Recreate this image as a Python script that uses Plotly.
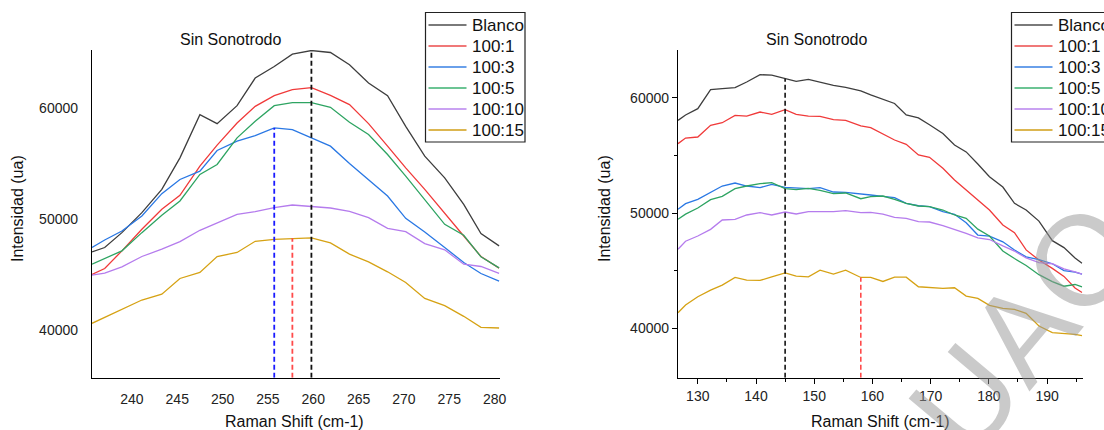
import plotly.graph_objects as go

# ---------------- data: left panel ----------------
x_left = [235.6, 237.0, 238.9, 241.1, 243.3, 245.3, 247.5, 249.4, 251.6, 253.6, 255.7, 257.7,
          259.8, 261.9, 264.0, 266.1, 268.2, 270.2, 272.3, 274.5, 276.6, 278.5, 280.5]
blanco_L = [47040, 47430, 48770, 50570, 52670, 55510, 59400, 58590, 60210, 62700, 63740, 64850,
            65180, 65000, 63890, 62250, 61110, 58350, 55660, 53710, 51320, 48680, 47580]
r1_L = [45000, 45540, 47130, 49070, 50870, 52130, 54760, 56650, 58650, 60150, 61110, 61650,
        61830, 61140, 60300, 58590, 56560, 54610, 52670, 50570, 48470, 46620, 45570]
r3_L = [47430, 48110, 48920, 50270, 52280, 53560, 54310, 56170, 57010, 57520, 58200, 58050,
        57310, 56560, 55000, 53560, 52070, 50060, 48830, 47430, 46080, 45090, 44400]
r5_L = [45930, 46440, 47130, 48770, 50330, 51620, 54010, 54910, 57310, 58800, 60210, 60480,
        60480, 60060, 58710, 57610, 55810, 53860, 51770, 49520, 48530, 46590, 45600]
r10_L = [44940, 45120, 45690, 46620, 47280, 47960, 48980, 49670, 50420, 50660, 51020, 51260,
         51110, 50990, 50690, 50120, 49160, 48860, 47780, 47220, 45930, 45720, 45090]
r15_L = [40600, 41140, 41890, 42700, 43230, 44640, 45180, 46620, 46980, 47990, 48170, 48260,
         48290, 47840, 46830, 46140, 45240, 44280, 42840, 42190, 41230, 40240, 40180]

# ---------------- data: right panel ----------------
x_right = [126.6, 127.9, 130.0, 132.2, 134.2, 136.4, 138.4, 140.7, 142.7, 145.0, 146.9, 149.0,
           151.0, 153.3, 155.4, 158.0, 159.7, 161.8, 163.8, 165.8, 167.9, 169.8, 172.1, 174.1,
           176.1, 178.1, 180.1, 182.4, 184.4, 186.4, 188.6, 190.9, 192.9, 194.8, 196.0]
blanco_R = [58035, 58500, 59046, 60694, 60780, 60867, 61358, 61994, 61965, 61647, 61416, 61590,
            61358, 61069, 60900, 60600, 60250, 59850, 59500, 58500, 58250, 57650, 56900, 55900,
            55300, 54250, 53150, 52250, 50840, 50260, 49300, 47600, 47000, 46100, 45640]
r1_R = [56012, 56503, 56590, 57601, 57832, 58468, 58410, 58757, 58555, 58960, 58555, 58410,
        58382, 58092, 58035, 57550, 57400, 56830, 56330, 55960, 55030, 54830, 53880, 52860,
        52000, 51130, 50260, 48960, 48290, 46800, 45920, 45200, 44500, 43500, 43100]
r3_R = [50318, 50809, 51185, 51821, 52341, 52601, 52341, 52197, 52486, 52225, 52168, 52110,
        52197, 51821, 51792, 51680, 51560, 51450, 51330, 50840, 50630, 50550, 50110, 49890,
        49160, 48090, 48000, 47500, 46790, 46200, 45950, 45600, 45000, 44880, 44700]
r5_R = [49451, 49900, 50434, 51156, 51445, 52110, 52341, 52543, 52630, 52110, 52023, 52139,
        51965, 51676, 51734, 51240, 51414, 51474, 51188, 50842, 50608, 50546, 50260, 49827,
        49541, 48600, 48000, 46700, 46050, 45450, 44650, 44050, 43650, 43800, 43600]
r10_R = [46850, 47550, 48006, 48584, 49393, 49451, 49827, 50029, 49827, 50087, 49913, 50116,
         50116, 50116, 50202, 50026, 50055, 49900, 49627, 49541, 49246, 49220, 48899, 48586,
         48240, 47850, 47700, 47150, 46700, 46100, 45700, 45600, 45150, 44900, 44700]
r15_R = [41354, 42017, 42738, 43314, 43746, 44409, 44179, 44150, 44467, 44813, 44524, 44467,
         45043, 44697, 45043, 44409, 44409, 44063, 44438, 44438, 43602, 43516, 43458, 43516,
         42795, 42594, 41988, 41729, 41643, 41297, 40202, 39625, 39560, 39480, 39366]

names = ["Blanco", "100:1", "100:3", "100:5", "100:10", "100:15"]
colors = ["#3e3e3e", "#f03a3a", "#2a78e4", "#2ea462", "#b57ced", "#d6a214"]
legend_colors = ["#7a7a7a", "#f07878", "#6aa0ea", "#6cc494", "#caa2f2", "#dcb650"]

xrange_L = [235.6, 280.6]
yrange_L = [35700, 65225]
xrange_R = [126.6, 196.1]
yrange_R = [35716, 64137]

# dashed peak markers: (series, index of point, colour)
dash_L = [(r3_L, 10, "#1a1aff"), (r15_L, 11, "#ff4a4a"), (blanco_L, 12, "#111111")]
dash_R = [(blanco_R, 9, "#111111"), (r15_R, 15, "#ff4a4a")]

FONT = "Liberation Sans, Arial, sans-serif"
W, H = 1104, 430

fig = go.Figure()

series_L = [blanco_L, r1_L, r3_L, r5_L, r10_L, r15_L]
series_R = [blanco_R, r1_R, r3_R, r5_R, r10_R, r15_R]

for nm, c, ys in zip(names, colors, series_L):
    fig.add_trace(go.Scatter(x=x_left, y=ys, mode="lines", name=nm, showlegend=False,
                             line=dict(color=c, width=1.3), xaxis="x", yaxis="y"))
for ys, i, c in dash_L:
    fig.add_trace(go.Scatter(x=[x_left[i], x_left[i]], y=[yrange_L[0], ys[i]], mode="lines",
                             line=dict(color=c, width=1.8, dash="5px,3px"),
                             showlegend=False, xaxis="x", yaxis="y"))

for nm, c, ys in zip(names, colors, series_R):
    fig.add_trace(go.Scatter(x=x_right, y=ys, mode="lines", name=nm, showlegend=False,
                             line=dict(color=c, width=1.3), xaxis="x2", yaxis="y2"))
for ys, i, c in dash_R:
    fig.add_trace(go.Scatter(x=[x_right[i], x_right[i]], y=[yrange_R[0], ys[i]], mode="lines",
                             line=dict(color=c, width=1.6, dash="5px,3px"),
                             showlegend=False, xaxis="x2", yaxis="y2"))

dom_y = [(H - 377.7) / H, (H - 50) / H]

axis_common = dict(showgrid=False, zeroline=False, showline=True, linecolor="black",
                   linewidth=1.3, tickfont=dict(family=FONT, size=14, color="#222"))

fig.update_layout(
    width=W, height=H,
    margin=dict(l=0, r=0, t=0, b=0, autoexpand=False),
    paper_bgcolor="white", plot_bgcolor="white",
    font=dict(family=FONT, color="#111"),
    showlegend=False,
    xaxis=dict(domain=[92 / W, 500 / W], range=xrange_L, anchor="y",
               tickvals=[240, 245, 250, 255, 260, 265, 270, 275, 280], ticks="",
               ticklabelstandoff=8, **axis_common),
    yaxis=dict(domain=dom_y, range=yrange_L, anchor="x", tickformat="d",
               tickvals=[40000, 50000, 60000], ticks="", ticklabelstandoff=10,
               **axis_common),
    xaxis2=dict(domain=[678 / W, 1082.6 / W], range=xrange_R, anchor="y2",
                tickvals=[130, 140, 150, 160, 170, 180, 190], ticks="outside", ticklen=5,
                tickwidth=1.2, tickcolor="black",
                minor=dict(tickvals=[135, 145, 155, 165, 175, 185, 195], ticks="outside",
                           ticklen=3, tickwidth=1.2, tickcolor="black"),
                **axis_common),
    yaxis2=dict(domain=dom_y, range=yrange_R, anchor="x2", tickformat="d",
                tickvals=[40000, 50000, 60000], ticks="outside", ticklen=5,
                tickwidth=1.2, tickcolor="black",
                minor=dict(tickvals=[45000, 55000], ticks="outside", ticklen=3,
                           tickwidth=1.2, tickcolor="black"),
                **axis_common),
)

ann = []
shapes = []

def px(x):
    return x / W

def py(y):
    return (H - y) / H

def txt(x, y, s, size, angle=0, color="#111", xanchor="center"):
    ann.append(dict(x=px(x), y=py(y), xref="paper", yref="paper", text=s,
                    showarrow=False, textangle=angle, xanchor=xanchor, yanchor="middle",
                    font=dict(family=FONT, size=size, color=color)))

txt(231, 39, "Sin Sonotrodo", 16)
txt(817, 39, "Sin Sonotrodo", 16)
txt(294, 421, "Raman Shift (cm-1)", 16)
txt(880, 421, "Raman Shift (cm-1)", 16)
txt(17, 209, "Intensidad (ua)", 16, -90)
txt(604, 209, "Intensidad (ua)", 16, -90)

# legends (drawn as boxes + line samples + text)
row_y = [25, 46, 67, 88, 109, 130]
for left in (425.5, 1011.5):
    shapes.append(dict(type="rect", xref="paper", yref="paper",
                       x0=px(left), x1=px(left + 99.5), y0=py(142), y1=py(12.5),
                       line=dict(color="#222", width=1.2), fillcolor="white", layer="above"))
    for nm, c, ry in zip(names, legend_colors, row_y):
        shapes.append(dict(type="line", xref="paper", yref="paper",
                           x0=px(left + 3), x1=px(left + 41), y0=py(ry), y1=py(ry),
                           line=dict(color=c, width=2.2), layer="above"))
        ann.append(dict(x=px(left + 44.5), y=py(ry + 0.5), xref="paper", yref="paper",
                        text=nm, showarrow=False, xanchor="left", yanchor="middle",
                        font=dict(family=FONT, size=17, color="#111")))

# watermark
txt(1024, 328, "UAQ", 128, -50, "rgba(150,150,150,0.5)")

fig.update_layout(annotations=ann, shapes=shapes)

fig.write_html("out.html")
